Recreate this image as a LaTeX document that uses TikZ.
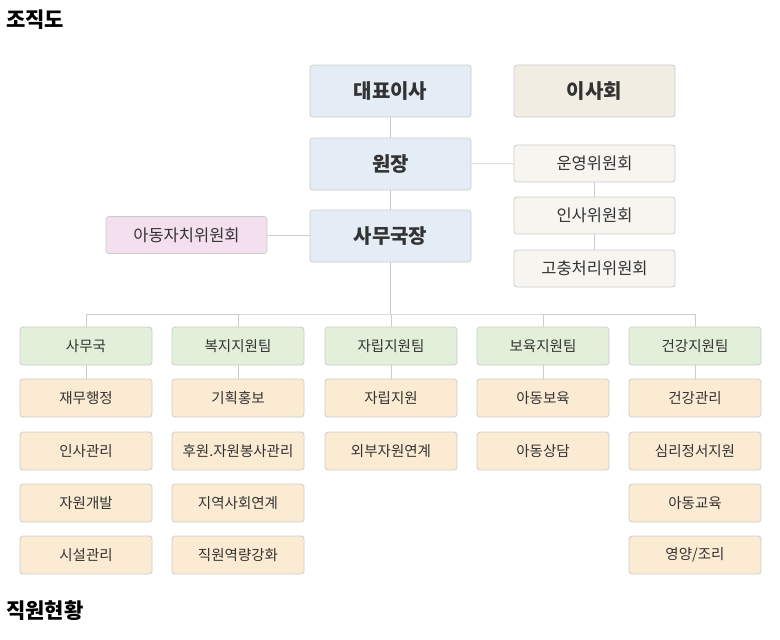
\documentclass[tikz,border=0pt]{standalone}
\usepackage{fontspec}
\newfontfamily\kr{Noto Sans CJK KR}
\definecolor{boxline}{HTML}{CCCCCC}
\definecolor{linegray}{HTML}{CCCCCC}
\definecolor{topblue}{HTML}{E4ECF6}
\definecolor{boardtan}{HTML}{F1EDE2}
\definecolor{commgray}{HTML}{F6F5F0}
\definecolor{kidpink}{HTML}{F4DFEE}
\definecolor{teamgreen}{HTML}{E2EFD9}
\definecolor{itempeach}{HTML}{FBEBD2}
\definecolor{txt}{HTML}{333333}
\tikzset{
  box/.style={draw=boxline, line width=0.8pt, rounded corners=3pt, text=txt, inner sep=0pt, font=\kr},
  topbox/.style={box, fill=topblue, minimum width=161, minimum height=52, font=\kr\bfseries\fontsize{20}{22}\selectfont},
  boardbox/.style={topbox, fill=boardtan},
  commbox/.style={box, fill=commgray, minimum width=161, minimum height=37, font=\kr\fontsize{16.5}{19}\selectfont},
  kidbox/.style={commbox, fill=kidpink},
  teambox/.style={box, fill=teamgreen, minimum width=132, minimum height=38, font=\kr\fontsize{14.5}{17}\selectfont},
  itembox/.style={teambox, fill=itempeach},
  heading/.style={anchor=west, inner sep=0pt, font=\kr\bfseries\fontsize{21}{23}\selectfont},
  link/.style={draw=linegray, line width=0.8pt}
}
\begin{document}
\begin{tikzpicture}[x=1pt, y=-1pt]
  \useasboundingbox (0,0) rectangle (780,640);

  \node[heading] (title) at (6,20) {조직도};
  \node[heading] (staff) at (6,611) {직원현황};

  \node[topbox] (ceo) at (390.5,91) {대표이사};
  \node[boardbox] (board) at (594.5,91) {이사회};
  \node[topbox] (head) at (390.5,164) {원장};
  \node[topbox] (sec) at (390.5,236) {사무국장};

  \node[commbox] (opc) at (594.5,163.5) {운영위원회};
  \node[commbox] (hrc) at (594.5,215.5) {인사위원회};
  \node[commbox] (grc) at (594.5,268.5) {고충처리위원회};
  \node[kidbox] (kids) at (186.5,235) {아동자치위원회};

  \node[teambox] (office) at (86,346) {사무국};
  \node[teambox] (welfare) at (238,346) {복지지원팀};
  \node[teambox] (indep) at (391,346) {자립지원팀};
  \node[teambox] (care) at (543,346) {보육지원팀};
  \node[teambox] (health) at (695,346) {건강지원팀};

  \node[itembox] (fin) at (86,398) {재무행정};
  \node[itembox] (hr) at (86,451) {인사관리};
  \node[itembox] (dev) at (86,503) {자원개발};
  \node[itembox] (fac) at (86,555) {시설관리};

  \node[itembox] (pr) at (238,398) {기획홍보};
  \node[itembox] (vol) at (238,451) {후원.자원봉사관리};
  \node[itembox] (comm) at (238,503) {지역사회연계};
  \node[itembox] (train) at (238,555) {직원역량강화};

  \node[itembox] (selfsup) at (391,398) {자립지원};
  \node[itembox] (outlink) at (391,451) {외부자원연계};

  \node[itembox] (kidcare) at (543,398) {아동보육};
  \node[itembox] (counsel) at (543,451) {아동상담};

  \node[itembox] (hmgmt) at (695,398) {건강관리};
  \node[itembox] (psy) at (695,451) {심리정서지원};
  \node[itembox] (edu) at (695,503) {아동교육};
  \node[itembox] (meal) at (695,555) {영양/조리};

  \coordinate (bus) at (390.5,314);

  \draw[link] (ceo) -- (head);
  \draw[link] (head) -- (sec);
  \draw[link] (head) -- (opc);
  \draw[link] (opc) -- (hrc);
  \draw[link] (hrc) -- (grc);
  \draw[link] (kids) -- (sec);
  \draw[link] (sec) -- (bus);
  \draw[link] (office.north) |- (bus) -| (health.north);
  \draw[link] (welfare.north) -- (welfare.north |- bus);
  \draw[link] (indep.north) -- (indep.north |- bus);
  \draw[link] (care.north) -- (care.north |- bus);
  \draw[link] (office) -- (fin);
  \draw[link] (welfare) -- (pr);
  \draw[link] (indep) -- (selfsup);
  \draw[link] (care) -- (kidcare);
  \draw[link] (health) -- (hmgmt);
\end{tikzpicture}
\end{document}
